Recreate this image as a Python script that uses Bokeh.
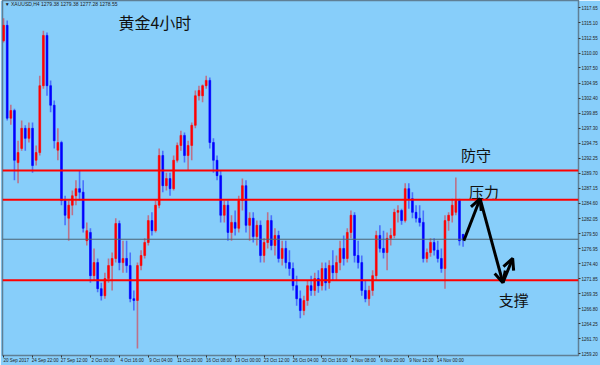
from bokeh.plotting import figure
from bokeh.models import (Span, Label, FixedTicker, Range1d, Arrow, OpenHead, LinearAxis,
                          ColumnDataSource, NumeralTickFormatter)
from bokeh.core.properties import value
from bokeh.embed import file_html
from bokeh.resources import INLINE

# ---- data (XAUUSD, candles) ----
opens = [1312.1, 1314.7, 1299.0, 1300.3, 1291.5, 1293.9, 1297.3, 1295.6, 1297.3, 1291.9,
         1293.2, 1304.5, 1313.0, 1304.5, 1301.2, 1293.6, 1294.9, 1285.1, 1282.1, 1284.3,
         1285.9, 1287.1, 1286.5, 1278.3, 1279.7, 1272.4, 1274.6, 1270.2, 1269.0, 1271.9,
         1274.1, 1275.3, 1281.2, 1274.6, 1275.3, 1274.1, 1268.5, 1268.2, 1274.1, 1275.8,
         1278.0, 1281.7, 1280.0, 1284.3, 1292.7, 1287.6, 1288.8, 1287.1, 1291.9, 1294.4,
         1296.1, 1292.7, 1294.4, 1297.8, 1302.8, 1302.8, 1304.5, 1305.4, 1294.9, 1291.9,
         1289.3, 1282.6, 1284.3, 1279.7, 1281.4, 1280.4, 1285.1, 1287.6, 1280.9, 1282.1,
         1279.0, 1280.9, 1275.8, 1278.0, 1281.7, 1277.5, 1279.2, 1275.3, 1277.0, 1274.6,
         1273.6, 1270.7, 1268.5, 1266.5, 1268.2, 1270.7, 1269.9, 1271.9, 1270.7, 1273.6,
         1271.2, 1274.1, 1272.9, 1274.6, 1277.0, 1275.3, 1279.7, 1282.6, 1275.8, 1274.6,
         1269.9, 1268.5, 1269.9, 1272.4, 1279.2, 1277.0, 1276.3, 1278.7, 1279.2, 1283.1,
         1283.4, 1281.7, 1287.1, 1285.4, 1283.1, 1282.1, 1281.4, 1275.3, 1276.3, 1278.0,
         1276.7, 1275.3, 1273.6, 1281.7, 1282.6, 1283.1, 1285.1, 1279.38]
highs = [1315.9, 1315.5, 1301.3, 1300.6, 1295.2, 1298.6, 1297.8, 1298.3, 1298.3, 1294.4,
         1306.2, 1313.8, 1313.5, 1305.4, 1302.0, 1297.3, 1295.2, 1285.9, 1285.1, 1286.8,
         1288.5, 1290.2, 1288.5, 1281.4, 1280.4, 1277.0, 1275.3, 1271.2, 1272.9, 1275.3,
         1276.3, 1282.1, 1281.7, 1278.3, 1278.3, 1276.3, 1269.9, 1274.6, 1276.7, 1278.7,
         1282.6, 1283.1, 1285.1, 1293.9, 1293.5, 1289.8, 1289.8, 1292.7, 1294.9, 1296.9,
         1296.6, 1295.2, 1298.3, 1303.7, 1304.5, 1304.7, 1306.2, 1305.9, 1295.6, 1292.7,
         1290.2, 1285.1, 1285.1, 1282.6, 1283.4, 1285.9, 1288.8, 1288.5, 1283.1, 1283.1,
         1281.7, 1281.7, 1278.7, 1283.1, 1282.6, 1280.4, 1280.0, 1278.3, 1278.3, 1276.7,
         1274.6, 1272.4, 1269.9, 1269.0, 1271.6, 1272.4, 1272.9, 1273.3, 1274.6, 1274.6,
         1275.0, 1276.7, 1275.8, 1278.3, 1279.2, 1280.4, 1283.4, 1283.1, 1278.3, 1275.8,
         1271.6, 1270.7, 1273.3, 1280.0, 1280.9, 1280.0, 1279.7, 1280.4, 1283.7, 1284.3,
         1283.7, 1288.0, 1288.0, 1286.5, 1284.3, 1284.3, 1283.4, 1277.0, 1278.7, 1278.7,
         1278.3, 1277.0, 1282.6, 1283.1, 1285.4, 1289.0, 1285.4, 1279.38]
lows = [1311.8, 1298.6, 1297.9, 1288.5, 1288.0, 1293.5, 1293.5, 1294.9, 1289.8, 1291.0,
        1292.7, 1304.0, 1302.8, 1300.0, 1293.9, 1291.9, 1284.3, 1280.9, 1278.3, 1282.6,
        1284.3, 1285.1, 1279.7, 1277.5, 1271.2, 1271.6, 1269.6, 1268.2, 1268.5, 1271.2,
        1269.9, 1274.6, 1273.3, 1272.9, 1272.9, 1267.9, 1266.5, 1260.1, 1273.3, 1275.3,
        1277.5, 1279.2, 1279.7, 1283.8, 1286.5, 1286.8, 1285.9, 1286.8, 1291.5, 1293.5,
        1291.5, 1290.2, 1291.9, 1297.3, 1302.0, 1301.7, 1304.0, 1293.9, 1289.8, 1288.5,
        1281.4, 1281.4, 1278.3, 1278.3, 1279.2, 1279.7, 1283.4, 1279.7, 1278.3, 1278.0,
        1277.5, 1274.6, 1274.6, 1277.0, 1276.7, 1275.8, 1274.6, 1274.1, 1273.6, 1272.4,
        1269.9, 1267.3, 1265.2, 1265.7, 1267.3, 1269.0, 1269.0, 1269.5, 1269.9, 1269.9,
        1270.2, 1271.6, 1271.6, 1273.3, 1274.1, 1274.6, 1278.7, 1274.6, 1273.6, 1269.0,
        1267.9, 1267.3, 1269.0, 1271.6, 1276.3, 1275.3, 1273.3, 1277.5, 1278.7, 1281.4,
        1281.0, 1281.4, 1283.7, 1282.1, 1281.4, 1280.7, 1274.6, 1274.6, 1275.6, 1275.8,
        1274.6, 1272.9, 1270.2, 1280.0, 1281.4, 1282.6, 1277.5, 1277.28]
closes = [1314.7, 1299.0, 1300.3, 1291.9, 1293.2, 1297.3, 1295.6, 1297.3, 1291.0, 1293.2,
          1304.5, 1313.0, 1304.5, 1301.2, 1295.2, 1294.9, 1285.1, 1282.6, 1284.3, 1285.9,
          1287.1, 1286.5, 1280.4, 1280.0, 1272.4, 1274.6, 1270.2, 1269.0, 1271.9, 1274.1,
          1275.3, 1281.2, 1274.6, 1275.3, 1274.1, 1268.5, 1268.2, 1274.1, 1275.8, 1278.0,
          1281.7, 1280.0, 1284.3, 1292.7, 1287.6, 1288.8, 1287.1, 1291.9, 1294.4, 1296.1,
          1292.7, 1294.4, 1297.8, 1302.8, 1303.7, 1304.5, 1305.4, 1294.9, 1291.9, 1289.3,
          1282.6, 1284.3, 1279.7, 1281.4, 1280.4, 1285.1, 1287.6, 1280.9, 1282.1, 1279.0,
          1280.9, 1275.8, 1278.0, 1281.7, 1277.5, 1279.2, 1275.3, 1277.0, 1274.6, 1273.6,
          1270.7, 1268.5, 1266.5, 1268.2, 1270.7, 1269.9, 1271.9, 1270.7, 1273.6, 1271.2,
          1274.1, 1272.9, 1274.6, 1277.0, 1275.3, 1279.7, 1282.6, 1275.8, 1274.6, 1269.9,
          1268.5, 1269.9, 1272.4, 1279.2, 1277.0, 1276.3, 1278.7, 1279.2, 1283.1, 1283.4,
          1281.7, 1287.1, 1285.4, 1283.1, 1282.1, 1281.4, 1275.3, 1276.3, 1278.0, 1276.7,
          1275.3, 1273.6, 1281.7, 1282.6, 1284.3, 1285.1, 1278.3, 1278.55]

time_labels = ["20 Sep 2017", "24 Sep 22:00", "27 Sep 12:00", "2 Oct 00:00",
               "4 Oct 16:00", "9 Oct 04:00", "11 Oct 20:00", "16 Oct 08:00",
               "19 Oct 00:00", "23 Oct 12:00", "26 Oct 04:00", "30 Oct 16:00",
               "2 Nov 08:00", "6 Nov 20:00", "9 Nov 12:00", "14 Nov 00:00"]
time_label_step = 8  # candles between time labels

price_ticks = [1317.65, 1315.10, 1312.55, 1310.00, 1307.50, 1304.95, 1302.40, 1299.85,
               1297.30, 1294.75, 1292.25, 1289.70, 1287.15, 1284.60, 1282.05, 1279.50,
               1276.95, 1274.40, 1271.85, 1269.35, 1266.80, 1264.25, 1261.70, 1259.20]

level_prices = [1290.15, 1285.23, 1271.62]   # red horizontal lines
current_price = 1278.55

title_text = "黄金4小时"
header_text = "▼  XAUUSD,H4  1279.38 1279.38 1277.28 1278.55"
notes = ["防守", "压力", "支撑"]
note_x = [130.6, 132.8, 141.0]
note_y = [1292.9, 1286.6, 1268.4]

# arrows: (x_start, y_start, x_end, y_end)
arrow_x0 = [127.2, 131.7, 138.0]
arrow_y0 = [1278.3, 1285.4, 1271.2]
arrow_x1 = [131.7, 138.0, 140.7]
arrow_y1 = [1285.4, 1271.2, 1275.3]

# ---- figure ----
BG = "#87CEFA"
AX = "#5F7F95"
UP = "#FF0000"
DN = "#0000FF"
X0, X1 = -0.3, 158.9
Y0, Y1 = 1258.9, 1318.9

n = len(opens)
idx = list(range(n))
up = [c >= o for o, c in zip(opens, closes)]
src = ColumnDataSource(dict(
    x=idx, h=highs, l=lows,
    top=[max(o, c) for o, c in zip(opens, closes)],
    bot=[min(o, c) for o, c in zip(opens, closes)],
    col=[UP if u else DN for u in up],
))

p = figure(width=600, height=365, output_backend="svg", toolbar_location=None,
           x_range=Range1d(X0, X1), y_range=Range1d(Y0, Y1),
           y_axis_location="right", min_border_left=2, min_border_top=0,
           min_border_right=19, min_border_bottom=10)
p.background_fill_color = BG
p.border_fill_color = BG
p.outline_line_color = AX
p.outline_line_width = 1.5
p.xgrid.visible = False
p.ygrid.visible = False

for ax in (p.xaxis[0], p.yaxis[0]):
    ax.axis_line_color = AX
    ax.major_tick_line_color = "#333333"
    ax.minor_tick_line_color = None
    ax.major_tick_in = 0
    ax.major_tick_out = 2
    ax.major_label_standoff = 1
    ax.major_label_text_font = "Liberation Sans"
    ax.major_label_text_font_size = "4.5px"
    ax.major_label_text_color = "#222222"

# bottom axis: tick marks at the time points
time_ticks = [i * time_label_step for i in range(len(time_labels))]
p.xaxis.ticker = FixedTicker(ticks=time_ticks)
p.xaxis.major_label_overrides = {t: "" for t in time_ticks}
p.xaxis.major_label_standoff = 0
p.xaxis.major_label_text_font_size = "1px"

# second bottom axis carries the labels, which start at their tick (MetaTrader style)
label_shift = 3.5
label_pos = [t + label_shift for t in time_ticks]
lab_axis = LinearAxis(ticker=FixedTicker(ticks=label_pos),
                      major_label_overrides={pos: lab for pos, lab in zip(label_pos, time_labels)},
                      axis_line_color=None, major_tick_line_color=None,
                      minor_tick_line_color=None, major_tick_in=0, major_tick_out=0,
                      major_label_standoff=0, major_label_text_font="Liberation Sans",
                      major_label_text_font_size="4.5px", major_label_text_color="#222222")
p.add_layout(lab_axis, "below")

p.yaxis.ticker = FixedTicker(ticks=price_ticks)
p.yaxis.formatter = NumeralTickFormatter(format="0.00")

# candles
p.segment(x0="x", y0="h", x1="x", y1="l", source=src, line_color="col",
          line_alpha=0.45, line_width=1.6)
p.vbar(x="x", width=0.5, top="top", bottom="bot", source=src,
       fill_color="col", line_color="col", line_width=0.6)

# horizontal levels
for lv in level_prices:
    p.add_layout(Span(location=lv, dimension="width", line_color=UP, line_width=2))
    p.add_layout(Label(x=581, y=lv, x_units="screen", text=f"{lv:.2f}",
                       text_font_size="4.5px", text_font="Liberation Sans",
                       text_color="white", text_baseline="middle",
                       background_fill_color=UP))
p.add_layout(Span(location=current_price, dimension="width", line_color="#4C6272",
                  line_width=1))
p.add_layout(Label(x=581, y=current_price, x_units="screen", text=f"{current_price:.2f}",
                   text_font_size="4.5px", text_font="Liberation Sans",
                   text_color="white", text_baseline="middle",
                   background_fill_color="#000000"))

# texts
p.add_layout(Label(x=0.3, y=1318.3, text=header_text, text_font_size="5px",
                   text_font="Liberation Sans", text_color="#222222",
                   text_baseline="middle"))
p.text(x=[41.8], y=[1315.3], text=[title_text], text_font=value("Noto Sans CJK SC"),
       text_font_size="16px", text_align="center", text_baseline="middle",
       text_color="#111111")
p.text(x=note_x, y=note_y, text=notes, text_font=value("Noto Sans CJK SC"),
       text_font_size="15px", text_align="center", text_baseline="middle",
       text_color="#111111")

for xs, ys, xe, ye in zip(arrow_x0, arrow_y0, arrow_x1, arrow_y1):
    p.add_layout(Arrow(x_start=xs, y_start=ys, x_end=xe, y_end=ye, line_width=3,
                       line_color="black",
                       end=OpenHead(size=11, line_width=3, line_color="black")))

open("out.html", "w").write(file_html(p, INLINE))
